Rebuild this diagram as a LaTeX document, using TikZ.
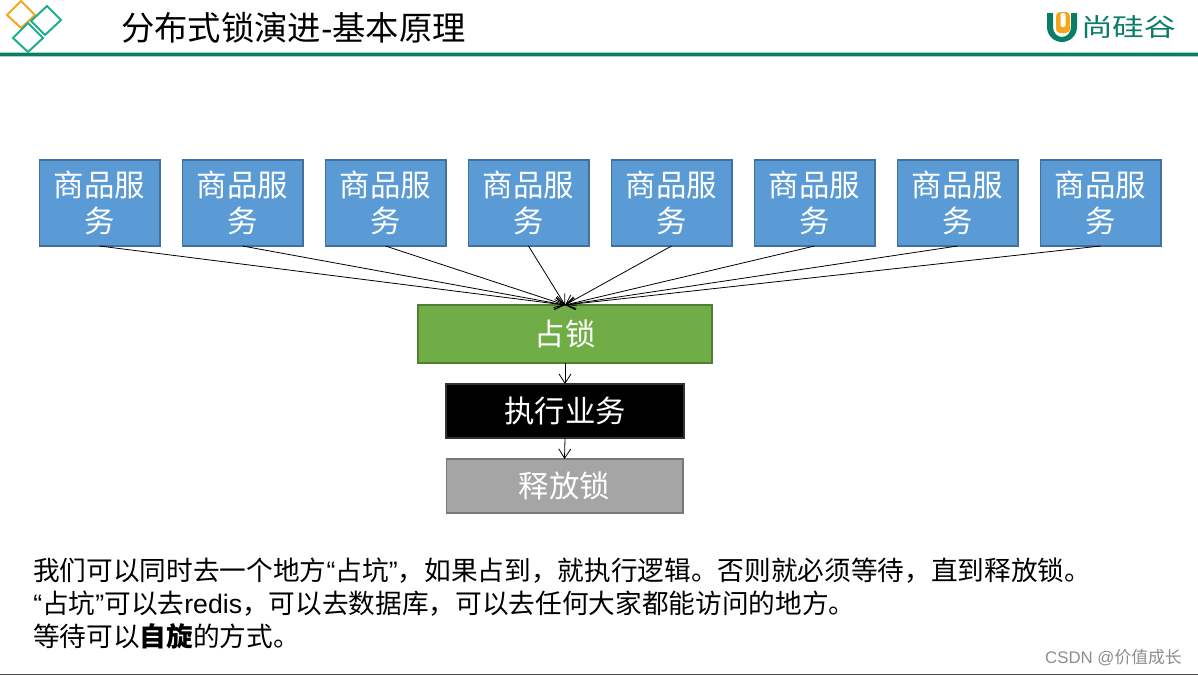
\documentclass[tikz,border=0pt]{standalone}
\usepackage{fontspec}
\setmainfont{Liberation Sans}
\newfontfamily\cjk{Noto Sans CJK SC}
\usetikzlibrary{arrows.meta}
\definecolor{boxblue}{HTML}{5B9BD5}
\definecolor{boxblueline}{HTML}{41719C}
\definecolor{boxgreen}{HTML}{70AD47}
\definecolor{boxgreenline}{HTML}{507E32}
\definecolor{boxgrey}{HTML}{A5A5A5}
\definecolor{boxgreyline}{HTML}{787878}
\definecolor{teal}{HTML}{0A7D66}
\definecolor{diag}{HTML}{1CAE8E}
\definecolor{amber}{HTML}{F5A71C}
\tikzset{
  x=0.75pt,y=-0.75pt,
  flowbox/.style={draw,line width=1pt,outer sep=0pt,inner sep=0pt,align=center,text=white,font=\cjk\fontsize{22.8}{27}\selectfont},
  svc/.style={flowbox,fill=boxblue,draw=boxblueline,minimum width=90.5pt,minimum height=64.5pt},
  conn/.style={draw=black,line width=0.6pt,-{Straight Barb[length=7pt,width=9pt,line width=0.6pt]},shorten >=0pt},
  bodytext/.style={anchor=west,inner sep=0pt,font=\fontsize{20}{22}\selectfont},
  diamondline/.style={line width=1.5pt}
}
\begin{document}
\begin{tikzpicture}
\useasboundingbox (0,0) rectangle (1198,676);
% header
\fill[teal!35] (0,51.5) rectangle (1198,57);
\fill[teal] (0,52.5) rectangle (1198,56);
\draw[amber,diamondline] (21,1) -- (35,15) -- (21,28) -- (7,15) -- cycle;
\draw[diag,diamondline] (47,6) -- (61,20) -- (45,35) -- (31,21) -- cycle;
\draw[diag,diamondline] (28,23) -- (43,38) -- (28,52) -- (13,38) -- cycle;
\node[anchor=west,inner sep=0pt] (title) at (121,28) {\fontsize{25}{28}\selectfont{\cjk 分布式锁演进}-{\cjk 基本原理}};
% logo
\fill[teal] (1047,27) arc[start angle=180,end angle=0,x radius=15,y radius=15] -- (1077,13) -- (1071,13) -- (1071,27) arc[start angle=0,end angle=180,x radius=9,y radius=10] -- (1053,13) -- (1047,13) -- cycle;
\fill[amber,rounded corners=3pt] (1056,12) rectangle (1070,33);
\fill[white,rounded corners=1.5pt] (1060.5,13) rectangle (1065.5,27);
\node[anchor=west,inner sep=0pt,text=teal,xscale=1.08,yscale=0.85] (logotext) at (1081,27) {\cjk\fontsize{22}{24}\selectfont 尚硅谷};
% services
\foreach \i/\cx in {1/99.5,2/242.5,3/385.5,4/528.5,5/671.5,6/814.5,7/957.5,8/1100.5}{
  \node[svc] (s\i) at (\cx,203) {商品服\\务};
}
% flow
\node[flowbox,fill=boxgreen,draw=boxgreenline,minimum width=220.5pt,minimum height=43.5pt] (lock) at (565,334) {占锁};
\node[flowbox,fill=black,draw=black!80,minimum width=178.5pt,minimum height=40.5pt] (run) at (565,411) {执行业务};
\node[flowbox,fill=boxgrey,draw=boxgreyline,minimum width=177.5pt,minimum height=40.5pt] (rel) at (564.5,486) {释放锁};
\foreach \i in {1,...,8}{\draw[conn] (s\i.south) -- (lock.north);}
\draw[conn] (lock.south) -- (run.north);
\draw[conn] (run.south) -- (rel.north);
% body text
\node[bodytext] (l1) at (33,571) {{\cjk 我们可以同时去一个地方}“{\cjk 占坑}”{\cjk ，如果占到，就执行逻辑。否则就必须等待，直到释放锁。}};
\node[bodytext] (l2) at (33,604) {“{\cjk 占坑}”{\cjk 可以去}redis{\cjk ，可以去数据库，可以去任何大家都能访问的地方。}};
\node[bodytext] (l3) at (33,636) {{\cjk 等待可以}{\cjk\bfseries 自旋}{\cjk 的方式。}};
% footer
\draw[black!70,line width=1pt] (0,674.5) -- (1198,674.5);
\node[anchor=east,inner sep=0pt,text=black!45] (mark) at (1182,658) {\fontsize{12.6}{15}\selectfont CSDN @{\cjk 价值成长}};
\end{tikzpicture}
\end{document}
